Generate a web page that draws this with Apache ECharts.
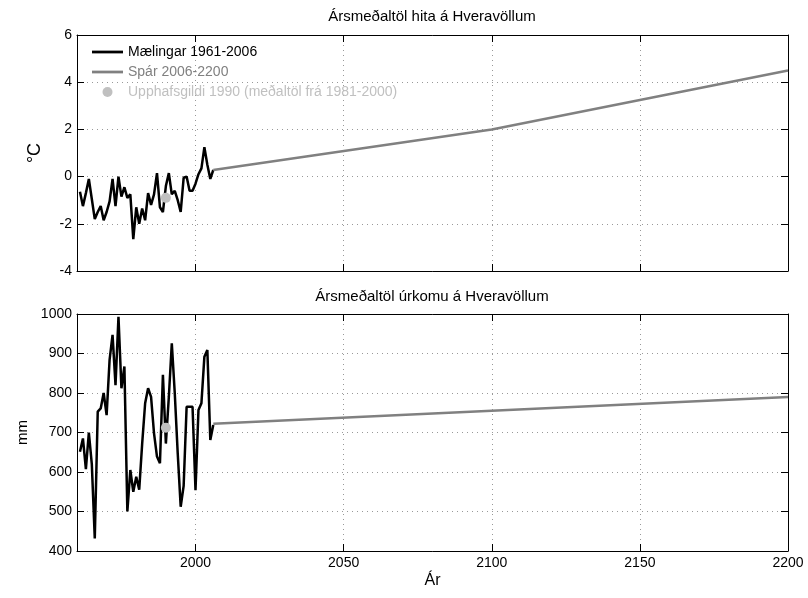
<!DOCTYPE html>
<html><head><meta charset="utf-8">
<script src="https://cdn.jsdelivr.net/npm/echarts@6/dist/echarts.min.js"></script>
<style>html,body{margin:0;padding:0;background:#fff}#c{width:808px;height:598px}</style>
</head><body><div id="c"></div>
<script>
// ---- data ----
const obsYears = [1961,1962,1963,1964,1965,1966,1967,1968,1969,1970,
  1971,1972,1973,1974,1975,1976,1977,1978,1979,1980,
  1981,1982,1983,1984,1985,1986,1987,1988,1989,1990,
  1991,1992,1993,1994,1995,1996,1997,1998,1999,2000,
  2001,2002,2003,2004,2005,2006];
const tempObs = [-0.64,-1.25,-0.7,-0.1,-0.95,-1.8,-1.5,-1.25,-1.85,-1.5,
  -1.05,-0.1,-1.25,0.0,-0.85,-0.45,-0.9,-0.75,-2.65,-1.3,
  -2.0,-1.35,-1.85,-0.7,-1.2,-0.75,0.15,-1.3,-1.5,-0.4,
  0.15,-0.75,-0.6,-1.0,-1.5,-0.05,0.0,-0.6,-0.6,-0.3,
  0.1,0.35,1.25,0.5,-0.1,0.28];
const precObs = [651,685,607,700,620,432,753,761,800,744,
  884,947,820,993,812,867,500,605,550,588,
  555,672,774,812,790,698,639,622,846,672,
  790,926,800,647,512,565,765,765,765,554,
  757,774,892,909,681,719];
const projYears = [2006,2100,2200];
const tempProj = [0.28,2.0,4.5];
const precProj = [722,755,790];
const baseYear = [1990];
const tempBase = [-0.9];
const precBase = [712];
const xTickVals = [2000,2050,2100,2150];
const xLabelVals = [2000,2050,2100,2150,2200];
const names = ['Mælingar 1961-2006','Spár 2006-2200','Upphafsgildi 1990 (meðaltöl frá 1981-2000)'];

const FONT = 'Liberation Sans, Arial, sans-serif';
const zip = (a,b) => a.map((v,i)=>[v,b[i]]);
const plain = v => String(v);

function xAx(grid, pos, showLabels, name) {
  return {
    type:'value', gridIndex:grid, position:pos, min:1960, max:2200,
    name: name || '', nameLocation:'middle', nameGap:22,
    nameTextStyle:{color:'#000', fontSize:16, fontFamily:FONT},
    axisLine:{show:true, onZero:false, lineStyle:{color:'#000', width:1}},
    axisTick:{show:true, inside:true, length:7, customValues:xTickVals, lineStyle:{color:'#000'}},
    axisLabel:{show:showLabels, customValues:xLabelVals, formatter:plain, color:'#000', fontSize:14, fontFamily:FONT, margin:5},
    splitLine:{show:pos==='bottom', lineStyle:{color:'#999', type:[1,4], width:1}}
  };
}
function yAx(grid, pos, min, max, interval, name, nameSize, nameGap) {
  const left = pos==='left';
  return {
    type:'value', gridIndex:grid, position:pos, min:min, max:max, interval:interval,
    name: left ? name : '', nameLocation:'middle', nameGap:nameGap,
    nameTextStyle:{color:'#000', fontSize:nameSize, fontFamily:FONT},
    axisLine:{show:true, onZero:false, lineStyle:{color:'#000', width:1}},
    axisTick:{show:true, inside:true, length:7, lineStyle:{color:'#000'}},
    axisLabel:{show:left, formatter:plain, color:'#000', fontSize:14, fontFamily:FONT, margin:5},
    splitLine:{show:left, lineStyle:{color:'#999', type:[1,4], width:1}}
  };
}

const lineIcon = 'path://M0,0H28V2.5H0Z';

const chart = echarts.init(document.getElementById('c'), null, {renderer:'canvas'});
chart.setOption({
  animation:false,
  backgroundColor:'#fff',
  title:[
    {text:'Ársmeðaltöl hita á Hveravöllum', left:432, top:9, padding:0, textAlign:'center',
     textStyle:{color:'#000', fontSize:15, fontWeight:'normal', fontFamily:FONT}},
    {text:'Ársmeðaltöl úrkomu á Hveravöllum', left:432, top:289, padding:0, textAlign:'center',
     textStyle:{color:'#000', fontSize:15, fontWeight:'normal', fontFamily:FONT}}
  ],
  legend:{
    orient:'vertical', left:92, top:45, padding:0, itemGap:6, itemWidth:31, itemHeight:10,
    selectedMode:false,
    textStyle:{fontSize:14, fontFamily:FONT, lineHeight:14},
    data:[
      {name:names[0], icon:lineIcon, textStyle:{color:'#000'}},
      {name:names[1], icon:lineIcon, textStyle:{color:'#808080'}},
      {name:names[2], icon:'circle', textStyle:{color:'#c0c0c0'}}
    ]
  },
  grid:[
    {left:77, top:35, width:711, height:236},
    {left:77, top:314, width:711, height:237}
  ],
  xAxis:[
    xAx(0,'bottom',false),
    xAx(0,'top',false),
    xAx(1,'bottom',true,'Ár'),
    xAx(1,'top',false)
  ],
  yAxis:[
    yAx(0,'left',-4,6,2,'°C',18,33),
    yAx(0,'right',-4,6,2,'',18,33),
    yAx(1,'left',400,1000,100,'mm',15,37),
    yAx(1,'right',400,1000,100,'',15,37)
  ],
  series:[
    {name:names[0], type:'line', xAxisIndex:0, yAxisIndex:0, data:zip(obsYears,tempObs),
     symbol:'none', lineStyle:{color:'#000', width:2.5}, itemStyle:{color:'#000'}},
    {name:names[1], type:'line', xAxisIndex:0, yAxisIndex:0, data:zip(projYears,tempProj),
     symbol:'none', lineStyle:{color:'#808080', width:2.5}, itemStyle:{color:'#808080'}},
    {name:names[2], type:'scatter', xAxisIndex:0, yAxisIndex:0, data:zip(baseYear,tempBase),
     z:5, symbolSize:10, itemStyle:{color:'#c0c0c0', opacity:1}},
    {name:names[0], type:'line', xAxisIndex:2, yAxisIndex:2, data:zip(obsYears,precObs),
     symbol:'none', lineStyle:{color:'#000', width:2.5}, itemStyle:{color:'#000'}},
    {name:names[1], type:'line', xAxisIndex:2, yAxisIndex:2, data:zip(projYears,precProj),
     symbol:'none', lineStyle:{color:'#808080', width:2.5}, itemStyle:{color:'#808080'}},
    {name:names[2], type:'scatter', xAxisIndex:2, yAxisIndex:2, data:zip(baseYear,precBase),
     z:5, symbolSize:10, itemStyle:{color:'#c0c0c0', opacity:1}}
  ]
});
</script>
</body></html>
